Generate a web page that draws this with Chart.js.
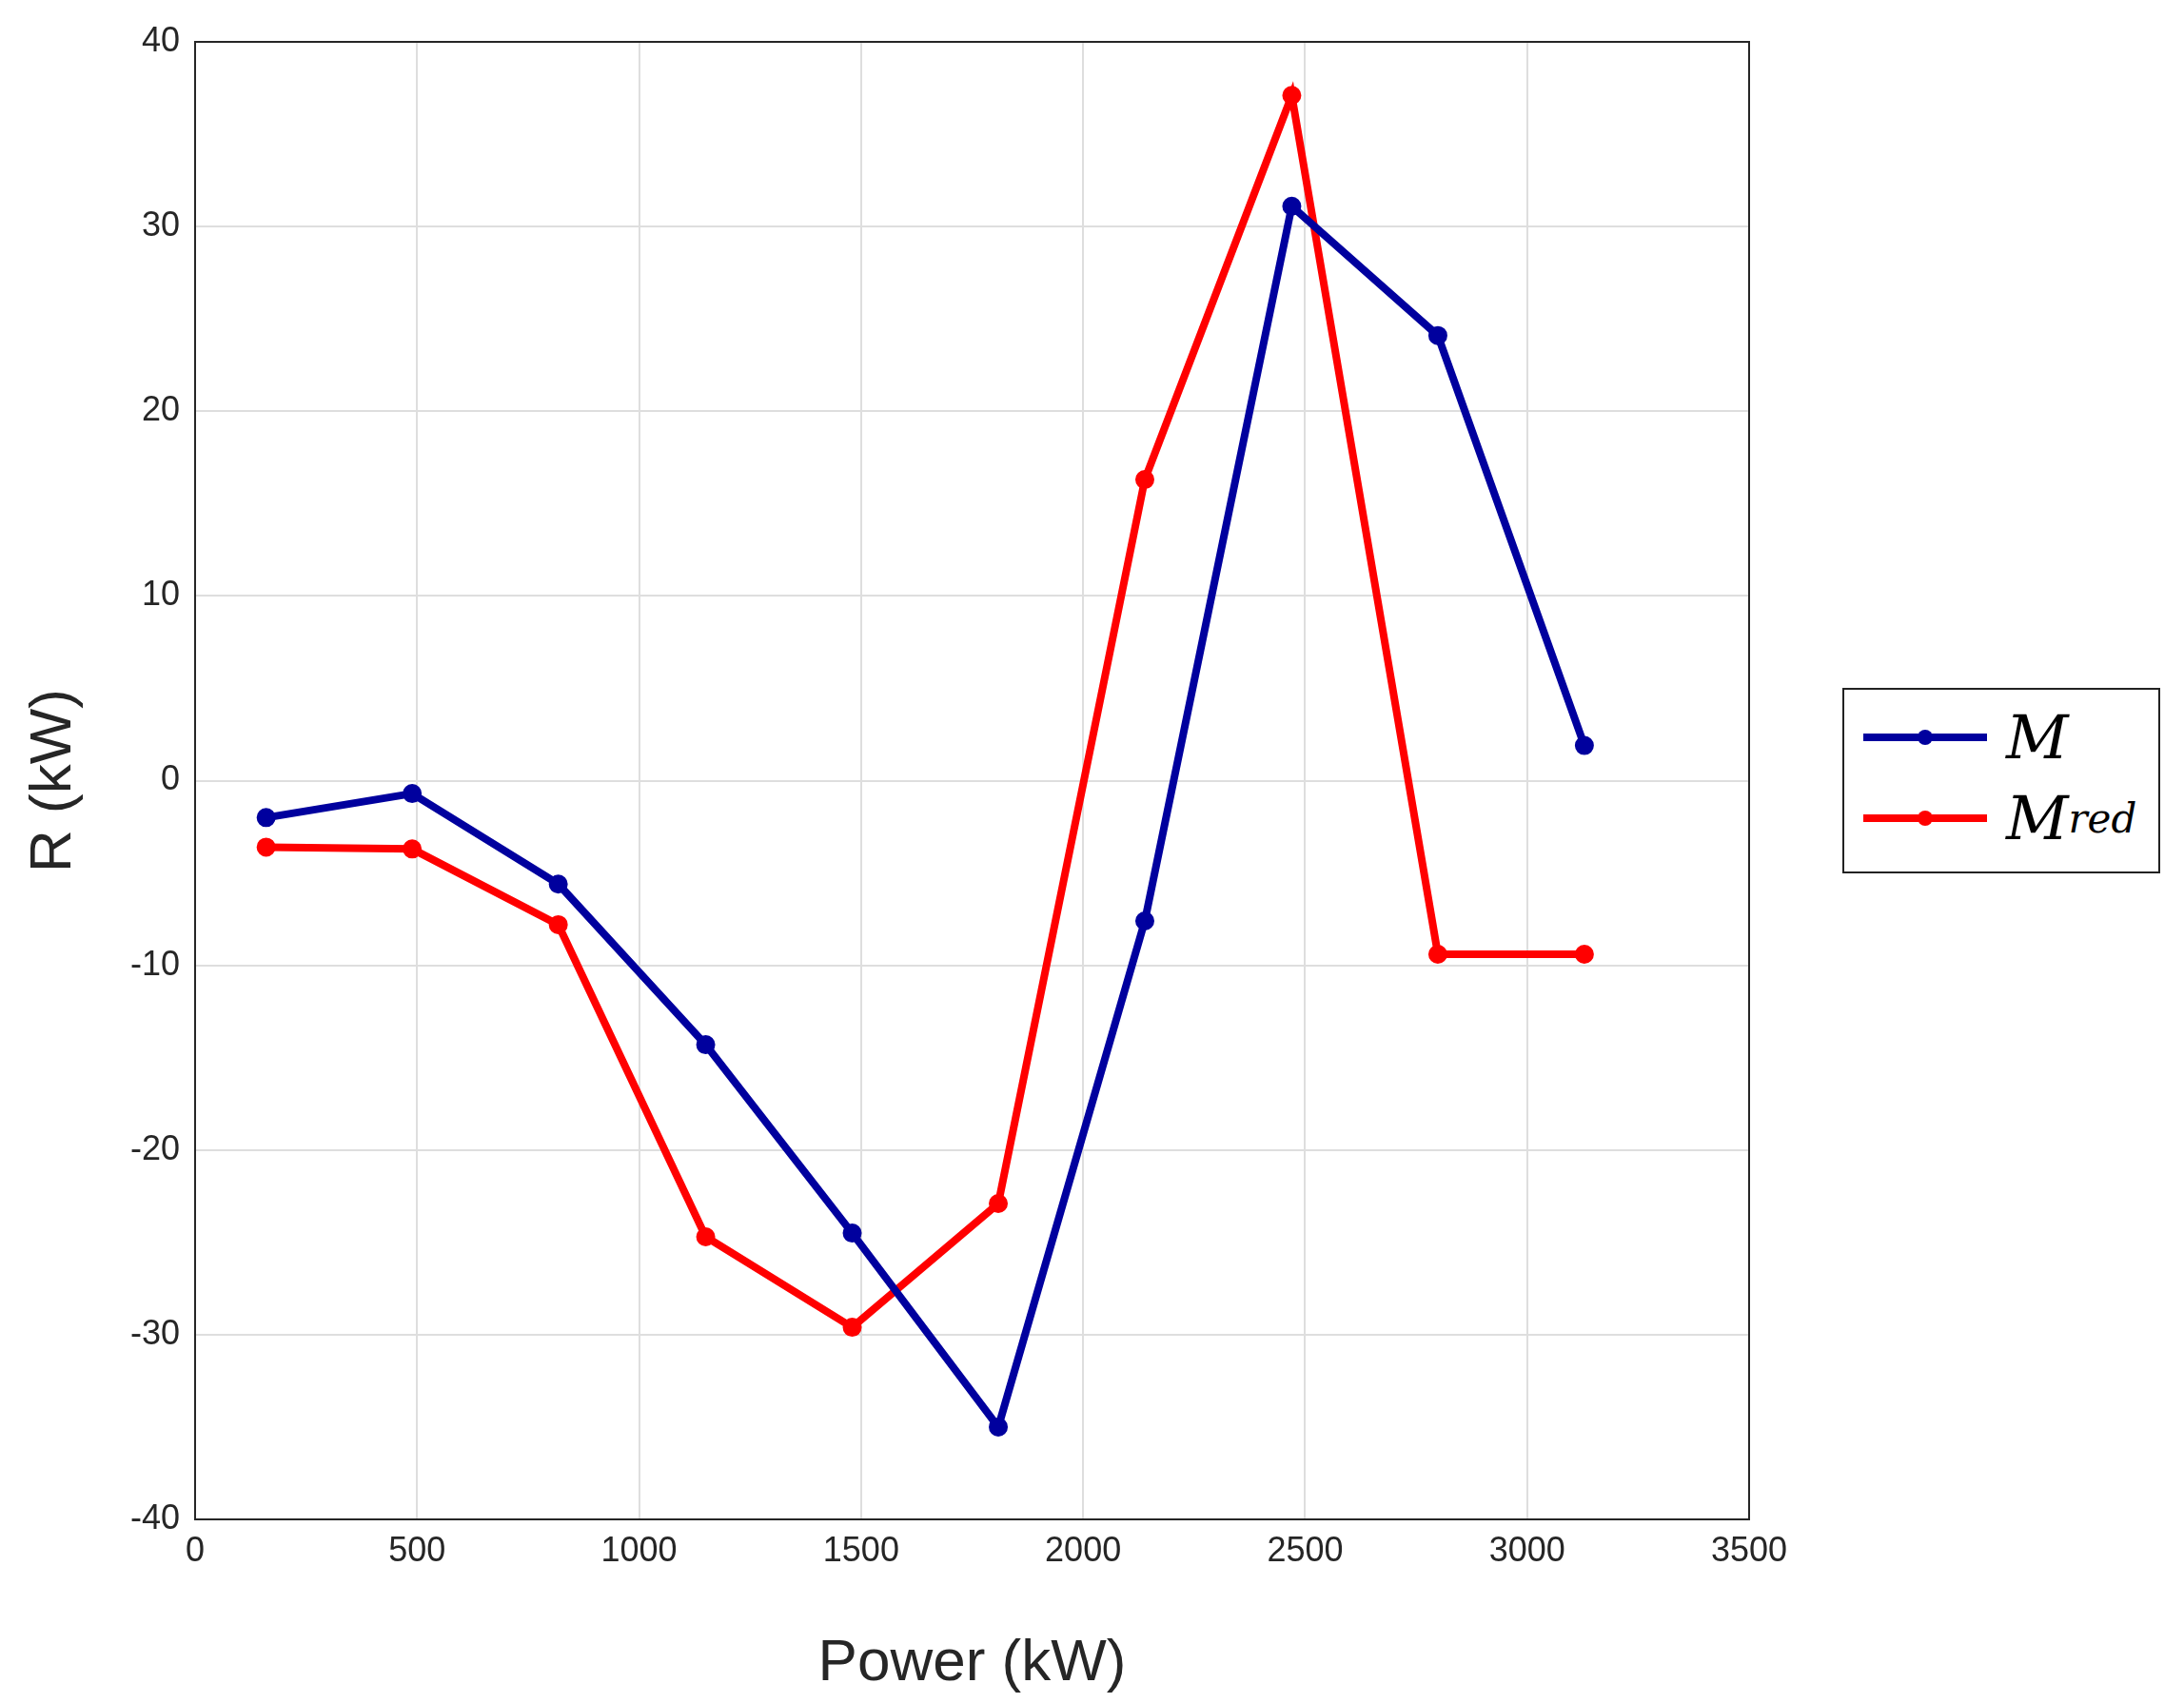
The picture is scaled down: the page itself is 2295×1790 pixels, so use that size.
<!DOCTYPE html>
<html><head><meta charset="utf-8">
<script src="https://cdn.jsdelivr.net/npm/chart.js@4"></script>
<style>
html,body{margin:0;padding:0;background:#fff;}
#wrap{position:relative;width:2295px;height:1790px;}
#legend{position:absolute;left:1936px;top:723px;width:334px;height:195px;border:2px solid #222;background:#fff;box-sizing:border-box;font-family:"DejaVu Serif","Liberation Serif",serif;font-style:italic;font-size:64px;color:#000;}
.row{position:absolute;left:20px;height:80px;display:flex;align-items:center;}
.ln{position:relative;width:130px;height:8px;margin-right:20px;}
.ln i{position:absolute;left:57px;top:-4px;width:16px;height:16px;border-radius:50%;}
sub{font-size:42px;vertical-align:-14px;}
</style></head><body>
<div id="wrap"><canvas id="c" width="2295" height="1790"></canvas>
<div id="legend">
<div class="row" style="top:10px"><div class="ln" style="background:#00009e"><i style="background:#00009e"></i></div>M</div>
<div class="row" style="top:95px"><div class="ln" style="background:#ff0000"><i style="background:#ff0000"></i></div>M<sub>red</sub></div>
</div></div>
<script>
const powerKW = [160, 489, 818, 1150, 1480, 1809, 2139, 2470, 2799, 3129];
const seriesM = [-2.0, -0.7, -5.6, -14.3, -24.5, -35.0, -7.6, 31.1, 24.1, 1.9];
const seriesMred = [-3.6, -3.7, -7.8, -24.7, -29.6, -22.9, 16.3, 37.1, -9.4, -9.4];
const xLabel = "Power (kW)";
const yLabel = "R (kW)";

const pts = (ys) => powerKW.map((x, i) => ({x, y: ys[i]}));
const tickFont = {family: "Liberation Sans, Arial, sans-serif", size: 36};
const titleFont = {family: "Liberation Sans, Arial, sans-serif", size: 62};
const gridCol = "#dedede";
const plain = v => String(v);
new Chart(document.getElementById('c'), {
  type: 'scatter',
  data: {datasets: [
    {label: 'M', data: pts(seriesM), showLine: true, borderColor: '#00009e', backgroundColor: '#00009e', borderWidth: 8, pointRadius: 6, pointHoverRadius: 6},
    {label: 'Mred', data: pts(seriesMred), showLine: true, borderColor: '#ff0000', backgroundColor: '#ff0000', borderWidth: 8, pointRadius: 6, pointHoverRadius: 6}
  ]},
  options: {
    responsive: false, animation: false,
    layout: {padding: {left: 0, right: 457, top: 44, bottom: 0}},
    plugins: {legend: {display: false}, tooltip: {enabled: false}},
    scales: {
      x: {type: 'linear', min: 0, max: 3500, position: 'bottom',
        afterFit: s => { s.height = 193; },
        ticks: {stepSize: 500, color: '#262626', font: tickFont, padding: 12, maxRotation: 0, callback: plain},
        grid: {color: gridCol, lineWidth: 2, drawTicks: false},
        border: {color: '#262626', width: 2},
        title: {display: true, text: xLabel, color: '#262626', font: titleFont, padding: {top: 10}}},
      x2: {type: 'linear', min: 0, max: 3500, position: 'top', afterFit: s => { s.height = 0; }, ticks: {display: false}, grid: {display: false}, border: {color: '#262626', width: 2}},
      y: {min: -40, max: 40,
        afterFit: s => { s.width = 205; },
        ticks: {stepSize: 10, color: '#262626', font: tickFont, padding: 16, callback: plain},
        grid: {color: gridCol, lineWidth: 2, drawTicks: false},
        border: {color: '#262626', width: 2},
        title: {display: true, text: yLabel, color: '#262626', font: titleFont, padding: {top: 20, bottom: 10}}},
      y2: {min: -40, max: 40, position: 'right', afterFit: s => { s.width = 0; }, ticks: {display: false}, grid: {display: false}, border: {color: '#262626', width: 2}}
    }
  }
});
</script></body></html>
